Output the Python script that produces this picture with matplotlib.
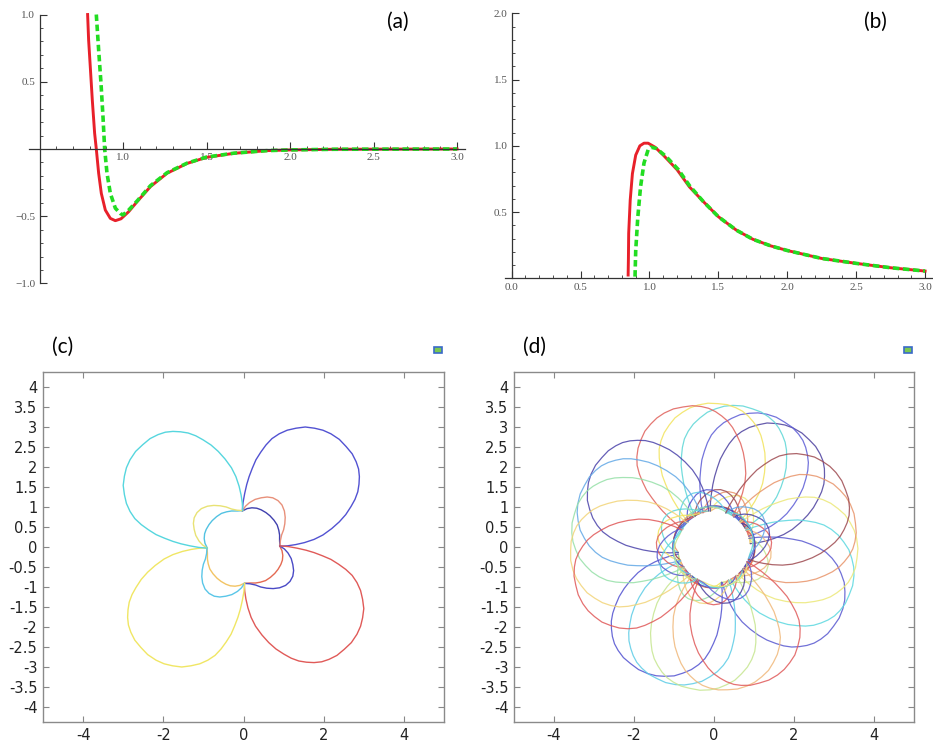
import numpy as np
import matplotlib
matplotlib.use('Agg')
import matplotlib.pyplot as plt
from matplotlib.transforms import Affine2D
from matplotlib.patches import Rectangle

plt.rcParams['axes.unicode_minus'] = False

# ---- (a) potential
a_red_x = [0.788, 0.794, 0.804, 0.816, 0.83, 0.84, 0.854, 0.87, 0.894, 0.924, 0.954, 0.988,
           1.034, 1.084, 1.164, 1.264, 1.384, 1.5, 1.664, 1.864, 2.0, 2.264, 2.6, 3.0]
a_red_y = [1.0, 0.81, 0.61, 0.365, 0.117, 0.0, -0.18, -0.33, -0.454, -0.516, -0.533, -0.519,
           -0.466, -0.392, -0.28, -0.18, -0.107, -0.062, -0.032, -0.012, -0.007, -0.002, -0.001, 0.0]
a_grn_x = [0.84, 0.854, 0.868, 0.88, 0.89, 0.904, 0.924, 0.954, 0.984, 1.0, 1.034, 1.084,
           1.164, 1.264, 1.384, 1.5, 1.664, 1.864, 2.0, 2.264, 2.6, 3.0]
a_grn_y = [1.0, 0.737, 0.49, 0.24, 0.0, -0.18, -0.33, -0.44, -0.48, -0.49, -0.454, -0.387,
           -0.273, -0.176, -0.105, -0.06, -0.031, -0.012, -0.007, -0.002, -0.001, 0.0]

# ---- (b)
b_red_x = [0.845, 0.847, 0.849, 0.86, 0.876, 0.90, 0.93, 0.96, 0.99, 1.04, 1.10, 1.20, 1.29,
           1.39, 1.50, 1.63, 1.75, 1.88, 2.0, 2.25, 2.5, 2.75, 3.0]
b_red_y = [0.025, 0.15, 0.34, 0.59, 0.79, 0.93, 1.0, 1.02, 1.02, 0.99, 0.93, 0.82, 0.69,
           0.58, 0.465, 0.364, 0.295, 0.245, 0.21, 0.15, 0.113, 0.08, 0.055]
b_grn_x = [0.895, 0.90, 0.915, 0.935, 0.96, 0.99, 1.01, 1.05, 1.12, 1.21, 1.29, 1.39, 1.50,
           1.63, 1.75, 1.88, 2.0, 2.25, 2.5, 2.75, 3.0]
b_grn_y = [0.013, 0.21, 0.46, 0.69, 0.87, 0.97, 0.99, 0.98, 0.92, 0.82, 0.70, 0.58, 0.465,
           0.364, 0.295, 0.245, 0.21, 0.15, 0.113, 0.08, 0.055]

# ---- (c) one big petal, small loop and inner arc (north-east quadrant)
petal_x = [-0.03, -0.01, 0.03, 0.08, 0.14, 0.22, 0.31, 0.43, 0.56, 0.71, 0.89, 1.09, 1.31,
           1.54, 1.77, 1.98, 2.18, 2.39, 2.56, 2.71, 2.81, 2.87, 2.89, 2.88, 2.85, 2.78,
           2.68, 2.55, 2.39, 2.20, 1.98, 1.76, 1.52, 1.30, 1.10, 0.91]
petal_y = [0.90, 1.12, 1.34, 1.56, 1.76, 1.97, 2.18, 2.37, 2.55, 2.71, 2.83, 2.92, 2.97,
           3.00, 2.97, 2.92, 2.83, 2.69, 2.51, 2.33, 2.13, 1.95, 1.76, 1.57, 1.38, 1.19,
           1.01, 0.81, 0.63, 0.46, 0.30, 0.19, 0.11, 0.06, 0.03, 0.02]
loop_x = [-0.03, 0.05, 0.15, 0.29, 0.44, 0.59, 0.73, 0.86, 0.96, 1.02, 1.04, 1.03, 1.0, 0.95, 0.92, 0.91]
loop_y = [0.90, 1.02, 1.11, 1.19, 1.23, 1.25, 1.23, 1.16, 1.05, 0.90, 0.74, 0.58, 0.43, 0.30, 0.16, 0.02]
arc_x = [-0.03, 0.09, 0.21, 0.33, 0.44, 0.56, 0.66, 0.76, 0.84, 0.88, 0.9, 0.9, 0.91]
arc_y = [0.90, 0.96, 0.98, 0.97, 0.93, 0.86, 0.78, 0.67, 0.55, 0.42, 0.3, 0.15, 0.02]

c_rot = [0, -90, 180, 90]
c_petal_col = ['#5252d2', '#e05a58', '#f0e664', '#56d6de']
c_loop_col = ['#e8907a', '#4a4ac6', '#5ac6e8', '#e8e274']
c_arc_col = ['#4040ae', '#e46a52', '#f2c464', '#52c2e2']

# ---- (d) petal directions (deg) and colours, four groups
d_dir = [49, 61, 75, 89, 103,
         -33, -19, -4, 10, 24,
         -125, -113, -99, -84, -71,
         142, 155, 167, 182, 196]
d_col = ['#4b3f9e', '#5c5cd6', '#5cd6d6', '#f2e35c', '#e0605a',
         '#5858d0', '#5cd8e0', '#ece878', '#e8946a', '#9e4a50',
         '#5050d0', '#5ccce6', '#c6e690', '#f0b87a', '#e05a5a',
         '#4a42aa', '#62a8e6', '#96e0a8', '#f2d478', '#e05858']
d_loop_col = d_col[7:] + d_col[:7]
d_arc_col = d_col[13:] + d_col[:13]

W, H = 933, 745
fig = plt.figure(figsize=(W / 100, H / 100), dpi=100)


def box(l, t, r, b):
    return [l / W, 1 - b / H, (r - l) / W, (b - t) / H]


def math_axes(ax, xorig):
    for s in ['top', 'right']:
        ax.spines[s].set_visible(False)
    ax.spines['left'].set_position(('data', xorig))
    ax.spines['bottom'].set_position(('data', 0))
    for s in ['left', 'bottom']:
        ax.spines[s].set_color('#333333')
        ax.spines[s].set_linewidth(0.9)
    ax.tick_params(which='both', direction='in', color='#333333', labelsize=8,
                   labelcolor='#555555', pad=3)
    ax.tick_params(which='major', length=5)
    ax.tick_params(which='minor', length=2.5)
    for lab in ax.get_xticklabels() + ax.get_yticklabels():
        lab.set_family('Liberation Serif')


# (a)
ax = fig.add_axes(box(29.5, 7.8, 465.4, 290.2))
ax.set_xlim(0.44, 3.05)
ax.set_ylim(-1.05, 1.05)
ax.plot(a_red_x, a_red_y, color='#e8202a', lw=2.1)
ax.plot(a_grn_x, a_grn_y, color='#22dd22', lw=2.6, ls=(0, (1.8, 1.0)))
ax.set_xticks([1.0, 1.5, 2.0, 2.5, 3.0], ['1.0', '1.5', '2.0', '2.5', '3.0'])
ax.set_xticks(np.arange(0.6, 3.01, 0.1), minor=True)
ax.set_yticks([-1.0, -0.5, 0.5, 1.0], ['\u22121.0', '\u22120.5', '0.5', '1.0'])
ax.set_yticks(np.arange(-1.0, 1.01, 0.1), minor=True)
ax.spines['left'].set_bounds(-1.0, 1.0)
math_axes(ax, 0.5)
fig.text(398 / W, 1 - 22 / H, '(a)', fontsize=15, family='Lato', ha='center', va='center')

# (b)
ax = fig.add_axes(box(504.8, 6.7, 932.0, 281.0))
ax.set_xlim(-0.05, 3.05)
ax.set_ylim(-0.02, 2.05)
ax.plot(b_red_x, b_red_y, color='#e8202a', lw=2.1)
ax.plot(b_grn_x, b_grn_y, color='#22dd22', lw=2.6, ls=(0, (1.8, 1.0)))
ax.set_xticks([0, 0.5, 1.0, 1.5, 2.0, 2.5, 3.0], ['0.0', '0.5', '1.0', '1.5', '2.0', '2.5', '3.0'])
ax.set_xticks(np.arange(0.1, 3.01, 0.1), minor=True)
ax.set_yticks([0.5, 1.0, 1.5, 2.0], ['0.5', '1.0', '1.5', '2.0'])
ax.set_yticks(np.arange(0.1, 2.01, 0.1), minor=True)
ax.spines['left'].set_bounds(0, 2.0)
math_axes(ax, 0.0)
fig.text(875 / W, 1 - 22 / H, '(b)', fontsize=15, family='Lato', ha='center', va='center')


def orbit_axes(ax):
    ax.set_xlim(-5, 5)
    ax.set_ylim(-4.375, 4.375)
    ax.set_xticks([-4, -2, 0, 2, 4])
    yt = np.arange(-4, 4.01, 0.5)
    ax.set_yticks(yt, ['%g' % v for v in yt])
    ax.tick_params(direction='in', top=True, right=True, length=4, color='#888888',
                   labelsize=10.5, labelcolor='#222222', pad=4)
    for s in ax.spines.values():
        s.set_color('#8a8a8a')
        s.set_linewidth(1.0)


def draw(ax, xs, ys, rot, col, lw=1.0, alpha=1.0):
    tr = Affine2D().rotate_deg(rot) + ax.transData
    ax.plot(xs, ys, color=col, lw=lw, alpha=alpha, transform=tr,
            solid_joinstyle='round', solid_capstyle='round')


# (c)
ax = fig.add_axes(box(43, 372, 444, 722))
orbit_axes(ax)
for rot, pc, lc, ac in zip(c_rot, c_petal_col, c_loop_col, c_arc_col):
    draw(ax, arc_x, arc_y, rot, ac)
    draw(ax, loop_x, loop_y, rot, lc)
    draw(ax, petal_x, petal_y, rot, pc)
fig.text(63 / W, 1 - 347 / H, '(c)', fontsize=15, family='Lato', ha='center', va='center')

# (d)
ax = fig.add_axes(box(514, 372, 914, 722))
orbit_axes(ax)
for ang, pc, lc, ac in zip(d_dir, d_col, d_loop_col, d_arc_col):
    draw(ax, arc_x, arc_y, ang - 45, ac, lw=0.9, alpha=0.9)
    draw(ax, loop_x, loop_y, ang - 45, lc, lw=0.9, alpha=0.85)
    draw(ax, petal_x, petal_y, ang - 45, pc, lw=0.9, alpha=0.85)
fig.text(535 / W, 1 - 347 / H, '(d)', fontsize=15, family='Lato', ha='center', va='center')

# small export icons at the top right of (c) and (d)
for px in [438, 908]:
    fig.add_artist(Rectangle(((px - 4) / W, 1 - 353 / H), 8 / W, 6 / H, transform=fig.transFigure,
                             facecolor='#7ac850', edgecolor='#3a6ac8', lw=1.2))

fig.savefig('out.png', dpi=100)
